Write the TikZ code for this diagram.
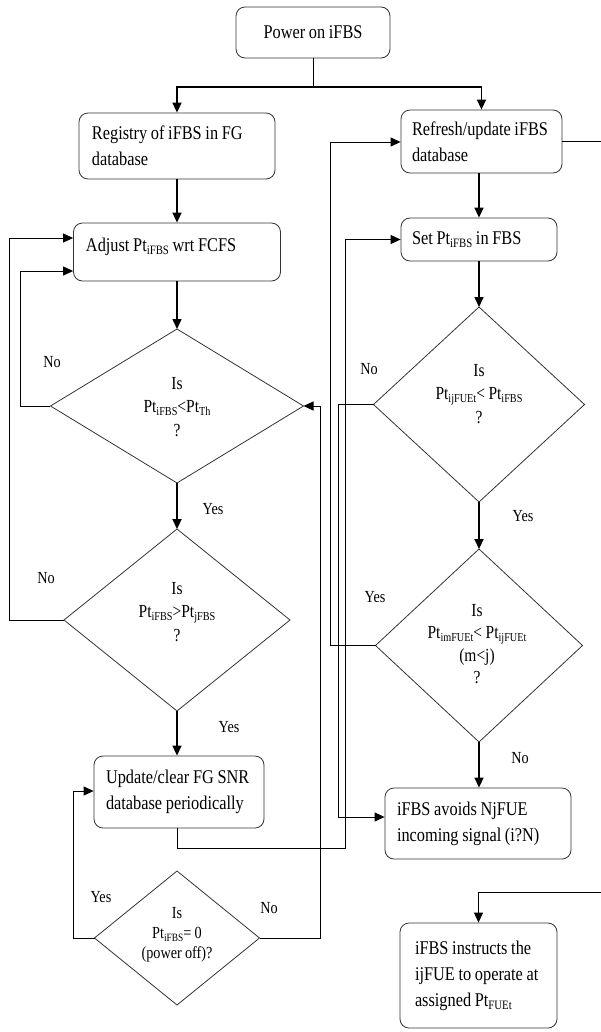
\documentclass[tikz,border=0pt]{standalone}
\usepackage{graphicx}
\usepackage{fontspec}
\setmainfont{Liberation Serif}[FakeStretch=0.84,WordSpace=0.9]
\usetikzlibrary{shapes.geometric,arrows.meta}

% lowered, reduced index text (Pt_{iFBS} etc.)
\newcommand{\lw}[1]{\raisebox{-0.35ex}{\scalebox{0.66}{#1}}}
% one unbreakable line with the font's own word spacing
\newcommand{\onel}[1]{\mbox{\spaceskip=0pt\xspaceskip=0pt\relax #1}}

\tikzset{
  box/.style={draw=black!80, line width=0.8bp, rounded corners=9bp, inner sep=0pt,
    align=left, font=\fontsize{19.5}{26}\selectfont},
  dia/.style={diamond, draw=black!80, line width=0.8bp, inner sep=0pt, outer sep=0pt},
  dtext/.style={align=center, inner sep=0pt, font=\fontsize{18.5}{23.5}\selectfont},
  lab/.style={inner sep=0pt, font=\fontsize{17}{19}\selectfont},
  ln/.style={line width=0.9bp},
  arr/.style={line width=0.9bp, -{Triangle[length=10bp,width=9bp]}},
  arrm/.style={line width=1.5bp, -{Triangle[length=10bp,width=9bp]}},
  arrk/.style={line width=2.2bp, -{Triangle[length=10bp,width=9bp]}},
}

\begin{document}
\begin{tikzpicture}[x=1bp,y=-1bp]
\useasboundingbox (0,0) rectangle (601,1032);

% process boxes
\node[box, align=center, minimum width=154bp, minimum height=51bp] (power) at (313,32.5) {\onel{Power on iFBS}};
\node[box, text width=170bp, minimum width=196bp, minimum height=66bp] (reg) at (177,146)
  {\onel{Registry of iFBS in FG}\\database};
\node[box, text width=139bp, minimum width=161bp, minimum height=63bp] (refresh) at (481.5,141.5)
  {\onel{Refresh/update iFBS}\\database};
\node[box, text width=182bp, minimum width=207bp, minimum height=58bp, text depth=14bp] (adjust) at (177,252)
  {\onel{Adjust Pt\lw{iFBS} wrt FCFS}};
\node[box, text width=134bp, minimum width=156bp, minimum height=43bp] (set) at (479,239.5)
  {\onel{Set Pt\lw{iFBS} in FBS}};
\node[box, text width=146bp, minimum width=170bp, minimum height=72bp] (update) at (179,792)
  {\onel{Update/clear FG SNR}\\\onel{database periodically}};
\node[box, text width=162bp, minimum width=186bp, minimum height=71bp] (avoid) at (478,823.5)
  {\onel{iFBS avoids NjFUE}\\\onel{incoming signal (i?N)}};
\node[box, text width=127bp, minimum width=157bp, minimum height=105bp] (instruct) at (478.5,975.5)
  {\onel{iFBS instructs the}\\\onel{ijFUE to operate at}\\\onel{assigned Pt\lw{FUEt}}};

% decision diamonds
\node[dia, minimum width=253bp, minimum height=154bp] (d1) at (177,406) {};
\node[dia, minimum width=211bp, minimum height=195bp] (d2) at (479,404.5) {};
\node[dia, minimum width=226bp, minimum height=182bp] (d4) at (177,620) {};
\node[dia, minimum width=207bp, minimum height=193bp] (d5) at (479,645.5) {};
\node[dia, minimum width=165bp, minimum height=134bp] (d6) at (177,938) {};

% questions inside the diamonds
\node[dtext] (q1) at (177,407) {Is\\Pt\lw{iFBS}<Pt\lw{Th}\\?};
\node[dtext] (q2) at (479,394) {Is\\\onel{Pt\lw{ijFUEt}< Pt\lw{iFBS}}\\?};
\node[dtext] (q4) at (177,612) {Is\\Pt\lw{iFBS}>Pt\lw{jFBS}\hspace*{20bp}\\?};
\node[dtext, font=\fontsize{18.5}{22.5}\selectfont] (q5) at (477,644) {Is\\\onel{Pt\lw{imFUEt}< Pt\lw{ijFUEt}}\\(m<j)\\?};
\node[dtext, font=\fontsize{17}{20}\selectfont] (q6) at (177,935) {Is\\\onel{Pt\lw{iFBS}= 0}\\\onel{(power off)?}};

% branch labels
\node[lab] (l1) at (52,362) {No};
\node[lab] (l2) at (213,509) {Yes};
\node[lab] (l3) at (46,578) {No};
\node[lab] (l4) at (229,727) {Yes};
\node[lab] (l5) at (369,369) {No};
\node[lab] (l6) at (523,516) {Yes};
\node[lab] (l7) at (375,597) {Yes};
\node[lab] (l8) at (520,758) {No};
\node[lab] (l9) at (101,897) {Yes};
\node[lab] (l10) at (269,908) {No};

% start split
\coordinate (split) at (313,87);
\draw[ln] (power.south) -- (split);
\draw[arrm] (split) -| (reg.north);
\draw[arrm] (split) -| (refresh.north);

% left column
\draw[arrm] (reg.south) -- (adjust.north);
\draw[arrm] (adjust.south) -- (d1.north);
\draw[arrk] (d1.south) -- (d4.north);
\draw[arrm] (d4.south) -- (d4.south |- update.north);
\draw[arr] (d1.west) -- ++(-30.5,0) |- (adjust.west |- 0,271);
\draw[arr] (d4.west) -- ++(-55,0) |- (adjust.west |- 0,238);
\draw[arr] (d6.west) -- ++(-21.5,0) |- (update.west |- 0,791);
\draw[arr] (d6.east) -- ++(60.5,0) |- (d1.east);
\draw[arr] (d4.south |- update.south) |- (345,848) |- (set.west);

% right column
\draw[arrm] (set.north |- refresh.south) -- (set.north);
\draw[arrm] (set.south) -- (d2.north);
\draw[arrk] (d2.south) -- (d5.north);
\draw[arrm] (d5.south) -- (d5.south |- avoid.north);
\draw[arr] (d2.west) -- ++(-35.5,0) |- (avoid.west |- 0,817);
\draw[arr] (d5.west) -- ++(-45.5,0) |- (refresh.west |- 0,142);

% links running off the right edge
\coordinate (rOut) at (601,141.5);
\coordinate (iIn) at (601,892);
\draw[ln] (refresh.east) -- (rOut);
\draw[arr] (iIn) -| (instruct.north);
\end{tikzpicture}
\end{document}
